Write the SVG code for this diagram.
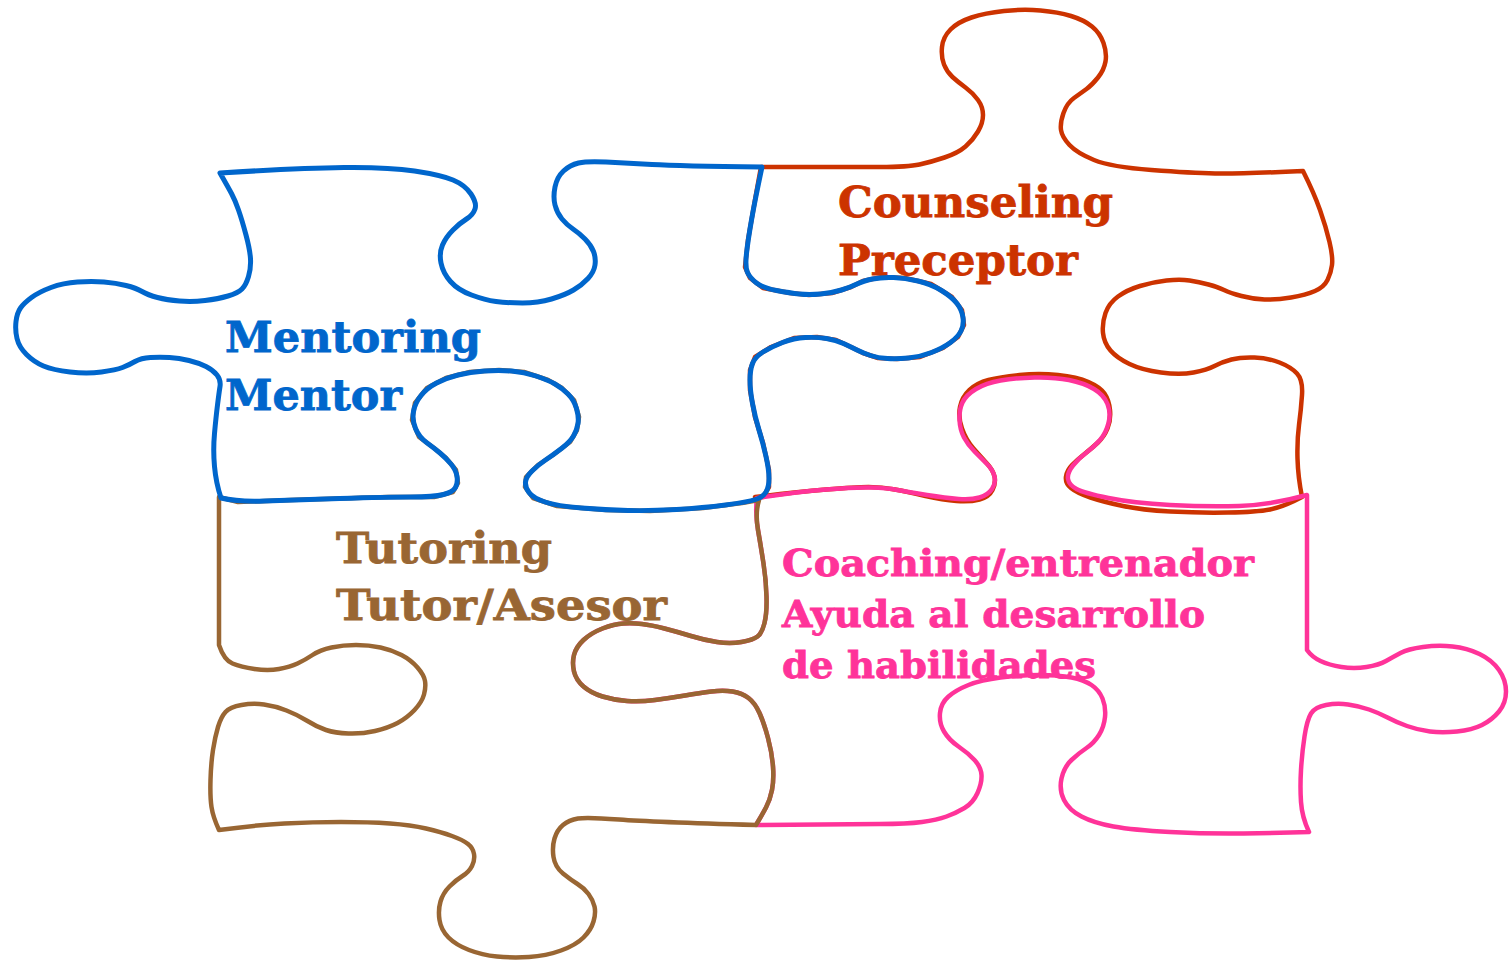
<svg xmlns="http://www.w3.org/2000/svg" width="1510" height="961" viewBox="0 0 1510 961">
<style>
.piece{fill:none;stroke-linejoin:round;stroke-linecap:round}
.red{stroke:#CC3300;stroke-width:4.5}
.pink{stroke:#FF3399;stroke-width:4.5}
.brown{stroke:#996633;stroke-width:4.5}
.blue{stroke:#0066CC;stroke-width:5}
.t{font-family:"DejaVu Serif","Liberation Serif",serif;font-weight:bold;font-size:42px;stroke-width:0.8}
.ts{font-size:37px}
</style>
<rect width="1510" height="961" fill="#FFFFFF"/>
<g id="counseling">
<path class="piece red" d="M761,167 L880,167 Q908,167 919.5,164.5 Q931,162 944.5,157.5 Q958,153 965.5,146.5 Q973,140 978,131.5 Q983,123 983,115 Q983,107 978,100 Q973,93 965.5,87.5 Q958,82 952.5,77 Q947,72 944,64.5 Q941,57 942,47 Q943,37 950.5,29.5 Q958,22 971.5,17.5 Q985,13 1004,11 Q1023,9 1040.5,10.5 Q1058,12 1071,16 Q1084,20 1092,26.5 Q1100,33 1103.5,43 Q1107,53 1105.5,61.5 Q1104,70 1098,77.5 Q1092,85 1086.5,89 Q1081,93 1074,98 Q1067,103 1063.5,113 Q1060,123 1061,130 Q1062,137 1069.5,145 Q1077,153 1094,160 Q1111,167 1151.5,170 Q1192,173 1215,173.5 Q1238,174 1303,171 Q1314,193 1320,210 Q1326,227 1329.5,242 Q1333,257 1332,265 Q1331,273 1327.5,280 Q1324,287 1315,291 Q1306,295 1291,297.5 Q1276,300 1264.5,299.5 Q1253,299 1241.5,296 Q1230,293 1224,290 Q1218,287 1208.5,284.5 Q1199,282 1189.5,280.5 Q1180,279 1166.5,280.5 Q1153,282 1140,286 Q1127,290 1118,296.5 Q1109,303 1105.5,313 Q1102,323 1103,333 Q1104,343 1110.5,350.5 Q1117,358 1129.5,364 Q1142,370 1161,372.5 Q1180,375 1193.5,372.5 Q1207,370 1214.5,366 Q1222,362 1231.5,359.5 Q1241,357 1254.5,357.5 Q1268,358 1279.5,362.5 Q1291,367 1297,373.5 Q1303,380 1302,395 Q1301,410 1299,425 Q1297,440 1297.5,458.5 Q1298,477 1302,497 Q1283,507 1270,509.5 Q1257,512 1228,512.5 Q1199,513 1170.5,511.5 Q1142,510 1123,506 Q1104,502 1090.5,497.5 Q1077,493 1071,488 Q1065,483 1066,476.5 Q1067,470 1072,465 Q1077,460 1084.5,454 Q1092,448 1098,442.5 Q1104,437 1107.5,428.5 Q1111,420 1110,410 Q1109,400 1104.5,393.5 Q1100,387 1088.5,382 Q1077,377 1058,375 Q1039,373 1019.5,375 Q1000,377 988.5,380 Q977,383 969.5,390 Q962,397 960,407 Q958,417 962,428.5 Q966,440 973.5,448.5 Q981,457 987,463.5 Q993,470 994.5,476.5 Q996,483 992.5,490 Q989,497 979.5,499.5 Q970,502 956.5,501 Q943,500 925.5,496 Q908,492 895,489.5 Q882,487 868.5,487 Q855,487 826,489.5 Q797,492 755,497 L763,497 L769,487 L769,470 L763,443 L755,417 L750,390 L750,370 L755,357 L771,347 L794,338 L817,337 L836,340 L851,347 L863,353 L878,358 L897,359 L920,357 L943,348 L958,337 L964,325 L962,310 L952,297 L931,284 L905,278 L882,277 L863,281 L851,287 L832,293 L809,295 L790,293 L763,288 L750,278 L745,267 L748,240 L755,200 Z"/>
<text class="t" x="838" y="217" fill="#CC3300" stroke="#CC3300" textLength="275" lengthAdjust="spacingAndGlyphs">Counseling</text>
<text class="t" x="838" y="275" fill="#CC3300" stroke="#CC3300" textLength="240" lengthAdjust="spacingAndGlyphs">Preceptor</text>
</g>
<g id="coaching">
<path class="piece pink" d="M757,498 Q797,492 826,489.5 Q855,487 871,487.5 Q887,488 897.5,490 Q908,492 927,495 Q946,498 958.5,499 Q971,500 979.5,497.5 Q988,495 992,489 Q996,483 994.5,476.5 Q993,470 987,464 Q981,458 974.5,451.5 Q968,445 964,437.5 Q960,430 959.5,420 Q959,410 962.5,402.5 Q966,395 976,389 Q986,383 1000.5,380.5 Q1015,378 1034.5,377.5 Q1054,377 1069,380 Q1084,383 1094,389 Q1104,395 1107.5,404 Q1111,413 1108.5,423 Q1106,433 1100,440 Q1094,447 1086.5,452.5 Q1079,458 1073,465.5 Q1067,473 1068,479 Q1069,485 1076.5,489 Q1084,493 1108.5,498 Q1133,503 1170,505 Q1207,507 1239,506 Q1271,505 1307,495 L1307,650 Q1312,657 1320.5,661 Q1329,665 1341.5,667 Q1354,669 1366.5,667 Q1379,665 1386,661 Q1393,657 1400.5,653 Q1408,649 1423,647 Q1438,645 1452.5,646.5 Q1467,648 1479.5,654 Q1492,660 1499,670 Q1506,680 1506,691.5 Q1506,703 1499,711.5 Q1492,720 1482,725 Q1472,730 1457,731.5 Q1442,733 1430,731.5 Q1418,730 1407,726 Q1396,722 1387.5,717.5 Q1379,713 1369,709.5 Q1359,706 1348,704.5 Q1337,703 1326,705 Q1315,707 1311,713.5 Q1307,720 1304.5,736.5 Q1302,753 1301,770 Q1300,787 1301,802 Q1302,817 1309,832 Q1280,833 1243.5,833.5 Q1207,834 1170,832 Q1133,830 1113.5,826.5 Q1094,823 1081.5,816.5 Q1069,810 1064,800 Q1059,790 1061.5,778.5 Q1064,767 1071.5,760 Q1079,753 1086.5,748 Q1094,743 1099,735 Q1104,727 1105,717 Q1106,707 1102.5,698.5 Q1099,690 1091.5,685 Q1084,680 1071.5,677.5 Q1059,675 1039.5,675 Q1020,675 1000.5,677.5 Q981,680 968.5,685 Q956,690 948.5,696.5 Q941,703 940,713 Q939,723 944,731.5 Q949,740 958.5,746.5 Q968,753 974.5,760 Q981,767 981.5,775 Q982,783 977.5,793 Q973,803 964.5,808 Q956,813 946.5,816.5 Q937,820 922,822 Q907,824 880,824 L756,825 Q762,815 766,807.5 Q770,800 772,790 Q774,780 773,766.5 Q772,753 768,738 Q764,723 759.5,713 Q755,703 748.5,698 Q742,693 732.5,691.5 Q723,690 711.5,691.5 Q700,693 685,695.5 Q670,698 655,700 Q640,702 627,701 Q614,700 602.5,696.5 Q591,693 583.5,686.5 Q576,680 574,671.5 Q572,663 574,655 Q576,647 583.5,640 Q591,633 602.5,628.5 Q614,624 623.5,623.5 Q633,623 642,624 Q651,625 664.5,628.5 Q678,632 691,636 Q704,640 717,642 Q730,644 741.5,642 Q753,640 757.5,636.5 Q762,633 764.5,623 Q767,613 766.5,596.5 Q766,580 763.5,563.5 Q761,547 758,530 Q755,513 757,498 Z"/>
<text class="t ts" x="782" y="576" fill="#FF3399" stroke="#FF3399" textLength="472" lengthAdjust="spacingAndGlyphs">Coaching/entrenador</text>
<text class="t ts" x="782" y="627" fill="#FF3399" stroke="#FF3399" textLength="423" lengthAdjust="spacingAndGlyphs">Ayuda al desarrollo</text>
<text class="t ts" x="782" y="678" fill="#FF3399" stroke="#FF3399" textLength="314" lengthAdjust="spacingAndGlyphs">de habilidades</text>
</g>
<g id="tutoring">
<path class="piece brown" d="M219,497 L238,502 L291,500 L388,497 L434,497 L453,492 L458,483 L456,470 L446,458 L434,448 L419,437 L412,420 L415,403 L427,388 L446,378 L470,372 L499,370 L524,372 L548,380 L562,388 L574,400 L579,417 L577,430 L570,442 L553,455 L538,465 L526,477 L525,487 L533,498 L557,506 L606,510 L650,511 L703,508 L742,503 L759,500 Q755,513 758,530 Q761,547 763.5,563.5 Q766,580 766.5,596.5 Q767,613 764.5,623 Q762,633 757.5,636.5 Q753,640 741.5,642 Q730,644 717,642 Q704,640 691,636 Q678,632 664.5,628.5 Q651,625 642,624 Q633,623 623.5,623.5 Q614,624 602.5,628.5 Q591,633 583.5,640 Q576,647 574,655 Q572,663 574,671.5 Q576,680 583.5,686.5 Q591,693 602.5,696.5 Q614,700 627,701 Q640,702 655,700 Q670,698 685,695.5 Q700,693 711.5,691.5 Q723,690 732.5,691.5 Q742,693 748.5,698 Q755,703 759.5,713 Q764,723 768,738 Q772,753 773,766.5 Q774,780 772,790 Q770,800 766,807.5 Q762,815 756,825 Q651,822 619,819.5 Q587,817 578,818.5 Q569,820 563,825 Q557,830 554.5,838.5 Q552,847 553.5,857 Q555,867 563,873.5 Q571,880 577.5,884 Q584,888 588.5,894 Q593,900 594.5,906.5 Q596,913 593.5,921.5 Q591,930 583.5,937.5 Q576,945 561,950.5 Q546,956 529,957 Q512,958 497,956.5 Q482,955 469,950 Q456,945 448.5,937.5 Q441,930 439.5,920 Q438,910 440.5,901.5 Q443,893 449.5,886.5 Q456,880 462.5,876 Q469,872 472,866 Q475,860 474,854 Q473,848 468,844 Q463,840 452,836 Q441,832 426,828.5 Q411,825 390,823.5 Q369,822 341,822 Q313,822 284.5,823.5 Q256,825 219,830 Q213,817 211.5,807 Q210,797 210.5,780 Q211,763 213,750 Q215,737 218,727 Q221,717 225.5,712 Q230,707 241.5,705 Q253,703 264,704.5 Q275,706 286.5,710.5 Q298,715 307.5,721 Q317,727 326,730 Q335,733 348.5,733.5 Q362,734 375,731 Q388,728 397.5,723 Q407,718 414.5,710 Q422,702 424,694.5 Q426,687 425,681 Q424,675 417.5,667.5 Q411,660 401.5,655 Q392,650 380.5,647.5 Q369,645 356,645 Q343,645 331.5,647.5 Q320,650 312.5,655 Q305,660 297.5,663.5 Q290,667 279,669 Q268,671 254.5,669 Q241,667 232.5,663.5 Q224,660 219,645 L219,497 Z"/>
<text class="t" x="336" y="563" fill="#996633" stroke="#996633" textLength="216" lengthAdjust="spacingAndGlyphs">Tutoring</text>
<text class="t" x="336" y="620" fill="#996633" stroke="#996633" textLength="331" lengthAdjust="spacingAndGlyphs">Tutor/Asesor</text>
</g>
<g id="mentoring">
<path class="piece blue" d="M220,173 Q300,168 344,167.5 Q388,167 414.5,171 Q441,175 453,180 Q465,185 471,194 Q477,203 475,209 Q473,215 466.5,219 Q460,223 453,230 Q446,237 442.5,245 Q439,253 441,263 Q443,273 450.5,281.5 Q458,290 471.5,295 Q485,300 496,301.5 Q507,303 522.5,303 Q538,303 551.5,299 Q565,295 573.5,290 Q582,285 588,278.5 Q594,272 595,265 Q596,258 593.5,251.5 Q591,245 585,239 Q579,233 573,229 Q567,225 562,219 Q557,213 555,205 Q553,197 555,187 Q557,177 563.5,171 Q570,165 578.5,163 Q587,161 606,162 Q625,163 652,164.5 Q679,166 762,167 Q755,200 751.5,220 Q748,240 746.5,253.5 Q745,267 747.5,272.5 Q750,278 756.5,283 Q763,288 776.5,290.5 Q790,293 799.5,294 Q809,295 820.5,294 Q832,293 841.5,290 Q851,287 857,284 Q863,281 872.5,279 Q882,277 893.5,277.5 Q905,278 918,281 Q931,284 941.5,290.5 Q952,297 957,303.5 Q962,310 963,317.5 Q964,325 961,331 Q958,337 950.5,342.5 Q943,348 931.5,352.5 Q920,357 908.5,358 Q897,359 887.5,358.5 Q878,358 870.5,355.5 Q863,353 857,350 Q851,347 843.5,343.5 Q836,340 826.5,338.5 Q817,337 805.5,337.5 Q794,338 782.5,342.5 Q771,347 763,352 Q755,357 752.5,363.5 Q750,370 750,380 Q750,390 752.5,403.5 Q755,417 759,430 Q763,443 766,456.5 Q769,470 769,478.5 Q769,487 766,492 Q763,497 755.5,499.5 Q748,502 725.5,505 Q703,508 676.5,509.5 Q650,511 628,510.5 Q606,510 581.5,508 Q557,506 545,502 Q533,498 529,492.5 Q525,487 525.5,482 Q526,477 532,471 Q538,465 545.5,460 Q553,455 561.5,448.5 Q570,442 573.5,436 Q577,430 578,423.5 Q579,417 576.5,408.5 Q574,400 568,394 Q562,388 555,384 Q548,380 536,376 Q524,372 511.5,371 Q499,370 484.5,371 Q470,372 458,375 Q446,378 436.5,383 Q427,388 421,395.5 Q415,403 413.5,411.5 Q412,420 415.5,428.5 Q419,437 426.5,442.5 Q434,448 440,453 Q446,458 451,464 Q456,470 457,476.5 Q458,483 455.5,487.5 Q453,492 443.5,494.5 Q434,497 411,497 Q388,497 339.5,498.5 Q291,500 264.5,501 Q238,502 221,498 Q216,483 214.5,466.5 Q213,450 214.5,433.5 Q216,417 217.5,405 Q219,393 220,386.5 Q221,380 217,375 Q213,370 206,366.5 Q199,363 189,360.5 Q179,358 169.5,357.5 Q160,357 150.5,357.5 Q141,358 135,361.5 Q129,365 122.5,367.5 Q116,370 101.5,372 Q87,374 70,372 Q53,370 43.5,366 Q34,362 26.5,354.5 Q19,347 17,338.5 Q15,330 16,321.5 Q17,313 20.5,308 Q24,303 31.5,297.5 Q39,292 51,287.5 Q63,283 77.5,282 Q92,281 104,282 Q116,283 126,285.5 Q136,288 142,291.5 Q148,295 157.5,297.5 Q167,300 179.5,301 Q192,302 205,300.5 Q218,299 228,296 Q238,293 242,289 Q246,285 248.5,276.5 Q251,268 250.5,259 Q250,250 246,235 Q242,220 238.5,210 Q235,200 231.5,193.5 Q228,187 220,173 Z"/>
<text class="t" x="225" y="352" fill="#0066CC" stroke="#0066CC" textLength="256" lengthAdjust="spacingAndGlyphs">Mentoring</text>
<text class="t" x="225" y="410" fill="#0066CC" stroke="#0066CC" textLength="177" lengthAdjust="spacingAndGlyphs">Mentor</text>
</g>
</svg>
